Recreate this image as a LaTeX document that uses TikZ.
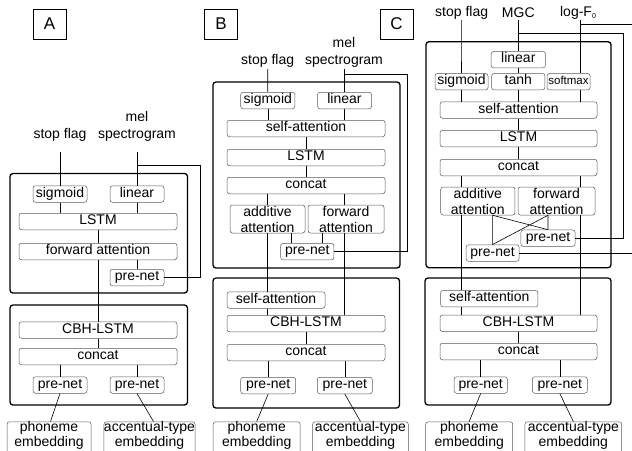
\documentclass[tikz,border=0pt]{standalone}
\usepackage{fontspec}
\setmainfont{Liberation Sans}
\usetikzlibrary{positioning}

\newcommand{\lowtail}{\rule[-8pt]{0pt}{8pt}}

\tikzset{
  blk/.style={draw=black!65, line width=0.5pt, rounded corners=2.5pt, inner sep=0pt,
              minimum height=16.5pt, text height=9pt, text depth=3pt},
  blktwo/.style={draw=black!65, line width=0.5pt, rounded corners=2.5pt, inner sep=0pt,
              minimum height=28pt, align=center},
  embbox/.style={draw=black!65, line width=0.5pt, rounded corners=2.5pt, inner sep=0pt,
              align=center, anchor=north, font=\fontsize{14}{15}\selectfont},
  frame/.style={draw, line width=1.3pt, rounded corners=3pt},
  lbl/.style={inner sep=0pt, align=center},
  tag/.style={draw, line width=0.8pt, inner sep=0pt, minimum width=33pt, minimum height=30pt,
              font=\fontsize{17}{17}\selectfont},
  link/.style={line width=0.6pt}
}

\begin{document}
\begin{tikzpicture}[x=1pt, y=-1pt, font=\fontsize{14}{16}\selectfont]

  \clip (0,0) rectangle (632,450);

  % frames
  \draw[frame] (10,173.5) rectangle (187.5,293);
  \draw[frame] (10,305) rectangle (187.5,405);
  \draw[frame] (213,82) rectangle (400,268);
  \draw[frame] (213,278) rectangle (399.5,408);
  \draw[frame] (426,41.7) rectangle (611,267.7);
  \draw[frame] (425,278) rectangle (611,405);

  % panel tags
  \node[tag] (tagA) at (49.5,24) {A};
  \node[tag] (tagB) at (221,24) {B};
  \node[tag] (tagC) at (396.5,24) {C};

  % ---------------- A ----------------
  \node[lbl] (aStop) at (60,135) {stop flag};
  \node[lbl, font=\fontsize{14}{17}\selectfont] (aMel) at (137,126.5) {mel\\spectrogram};
  \coordinate (aStopEnd) at (60,152);
  \coordinate (aMelEnd) at (137,152);
  \coordinate (aMelFb) at (137,165);

  \node[blk, minimum width=54] (aSig) at (60,194) {sigmoid};
  \node[blk, minimum width=54] (aLin) at (137,194) {linear};
  \node[blk, minimum width=158] (aLSTM) at (98,221.5) {LSTM};
  \node[blk, minimum width=158] (aFwd) at (98,251.5) {forward attention};
  \node[blk, minimum width=54] (aPre) at (137,277.5) {pre-net};
  \node[blk, minimum width=158] (aCBH) at (98,330) {CBH-LSTM};
  \node[blk, minimum width=158] (aCat) at (98,356.5) {concat};
  \node[blk, minimum width=54] (aPreL) at (60,385) {pre-net};
  \node[blk, minimum width=54] (aPreR) at (137,385) {pre-net};
  \node[embbox, minimum width=84] (aPho) at (49,421.5) {phoneme\\embedding\lowtail};
  \node[embbox, minimum width=91] (aAcc) at (149.5,421.5) {accentual-type\\embedding\lowtail};

  \begin{scope}[link]
    \draw (aStopEnd) -- (aSig.north);
    \draw (aMelEnd) -- (aLin.north);
    \draw (aMelFb) -- ++(63,0) |- (aPre.east);
    \draw (aSig.south) -- (aSig.south |- aLSTM.north);
    \draw (aLin.south) -- (aLin.south |- aLSTM.north);
    \draw (aLSTM) -- (aFwd);
    \draw (aPre.north) -- (aPre.north |- aFwd.south);
    \draw (aFwd.south) -- (aCBH.north);
    \draw (aCBH) -- (aCat);
    \draw (aPreL.north |- aCat.south) -- (aPreL.north);
    \draw (aPreR.north |- aCat.south) -- (aPreR.north);
    \draw (aPreL.south) -- ([xshift=1.5pt]aPho.north);
    \draw (aPreR.south) -- ([xshift=4pt]aAcc.north);
  \end{scope}

  % ---------------- B ----------------
  \node[lbl] (bStop) at (267.7,61) {stop flag};
  \node[lbl, font=\fontsize{14}{17.5}\selectfont] (bMel) at (344,52.5) {mel\\spectrogram};
  \coordinate (bStopEnd) at (267.7,69);
  \coordinate (bMelEnd) at (344.5,69);
  \coordinate (bMelFb) at (344.5,74);

  \node[blk, minimum width=54.3] (bSig) at (267.8,100.5) {sigmoid};
  \node[blk, minimum width=54] (bLin) at (344.5,100.5) {linear};
  \node[blk, minimum width=158] (bSelf) at (306,128.5) {self-attention};
  \node[blk, minimum width=158] (bLSTM) at (306,157.5) {LSTM};
  \node[blk, minimum width=158] (bCat) at (306,185.5) {concat};
  \node[blktwo, minimum width=75] (bAdd) at (267.5,219) {additive\\attention};
  \node[blktwo, minimum width=76] (bFwd) at (346,219) {forward\\attention};
  \node[blk, minimum width=53.3] (bPre) at (307.3,251.7) {pre-net};
  \node[blk, minimum width=98] (bSelf2) at (276,300) {self-attention};
  \node[blk, minimum width=158] (bCBH) at (306,323.5) {CBH-LSTM};
  \node[blk, minimum width=158] (bCat2) at (306,352.5) {concat};
  \node[blk, minimum width=55] (bPreL) at (268.2,385.5) {pre-net};
  \node[blk, minimum width=55] (bPreR) at (344.8,385.5) {pre-net};
  \node[embbox, minimum width=87] (bPho) at (256.7,421.5) {phoneme\\embedding\lowtail};
  \node[embbox, minimum width=95.6] (bAcc) at (360.5,421.5) {accentual-type\\embedding\lowtail};

  \begin{scope}[link]
    \draw (bStopEnd) -- (bSig.north);
    \draw (bMelEnd) -- (bLin.north);
    \draw (bMelFb) -- ++(62.5,0) |- (bPre.east);
    \draw (bSig.south) -- (bSig.south |- bSelf.north);
    \draw (bLin.south) -- (bLin.south |- bSelf.north);
    \draw (bSelf) -- (bLSTM);
    \draw (bLSTM) -- (bCat);
    \draw (bAdd.north |- bCat.south) -- (bAdd.north);
    \draw (bLin.south |- bCat.south) -- (bLin.south |- bFwd.north);
    \draw ([xshift=-15.6pt]bPre.north) -- ([xshift=-15.6pt]bPre.north |- bAdd.south);
    \draw ([xshift=15.4pt]bPre.north) -- ([xshift=15.4pt]bPre.north |- bFwd.south);
    \draw (bAdd.south) -- (bAdd.south |- bSelf2.north);
    \draw (bLin.south |- bFwd.south) -- (bLin.south |- bCBH.north);
    \draw (bAdd.south |- bSelf2.south) -- (bAdd.south |- bCBH.north);
    \draw (bCBH) -- (bCat2);
    \draw (bPreL.north |- bCat2.south) -- (bPreL.north);
    \draw (bPreR.north |- bCat2.south) -- (bPreR.north);
    \draw (bPreL.south) -- (bPho.north);
    \draw (bPreR.south) -- (bAcc.north);
  \end{scope}

  % ---------------- C ----------------
  \node[lbl] (cStop) at (461.7,13) {stop flag};
  \node[lbl] (cMgc) at (518.3,13) {MGC};
  \node[lbl] (cF0) at (578,13) {log-F{\fontsize{7}{7}\selectfont\raisebox{-2pt}{0}}};
  \coordinate (cStopEnd) at (461.7,20);
  \coordinate (cMgcEnd) at (518.3,20);
  \coordinate (cF0End) at (580,20);
  \coordinate (cMgcFb) at (518.3,33);
  \coordinate (cF0Fb) at (580,24.5);

  \node[blk, minimum width=54.3] (cLin) at (518.3,59.7) {linear};
  \node[blk, minimum width=53] (cSig) at (461.5,81.7) {sigmoid};
  \node[blk, minimum width=53.3] (cTanh) at (518.3,81.7) {tanh};
  \node[blk, minimum width=43, font=\fontsize{11.5}{12}\selectfont] (cSoft) at (568.5,81.7) {softmax};
  \node[blk, minimum width=157] (cSelf) at (518.5,110) {self-attention};
  \node[blk, minimum width=157] (cLSTM) at (518.5,138.5) {LSTM};
  \node[blk, minimum width=157] (cCat) at (518.5,167.5) {concat};
  \node[blktwo, minimum width=74.3] (cAdd) at (477.8,201) {additive\\attention};
  \node[blktwo, minimum width=77] (cFwd) at (556.5,201) {forward\\attention};
  \node[blk, minimum width=54.3] (cUp) at (548,238.2) {pre-net};
  \node[blk, minimum width=53] (cLow) at (492.6,253) {pre-net};
  \node[blk, minimum width=97.3] (cSelf2) at (489.3,298.7) {self-attention};
  \node[blk, minimum width=157] (cCBH) at (518.5,323.3) {CBH-LSTM};
  \node[blk, minimum width=157] (cCat2) at (518.5,351.5) {concat};
  \node[blk, minimum width=53.3] (cPreL) at (480.7,385) {pre-net};
  \node[blk, minimum width=55] (cPreR) at (559.8,385) {pre-net};
  \node[embbox, minimum width=87] (cPho) at (469.2,421.5) {phoneme\\embedding\lowtail};
  \node[embbox, minimum width=96.7] (cAcc) at (573.3,421.5) {accentual-type\\embedding\lowtail};

  \begin{scope}[link]
    \draw (cStopEnd) -- (cSig.north);
    \draw (cMgcEnd) -- (cLin.north);
    \draw (cF0End) -- (cF0End |- cSoft.north);
    \draw (cMgcFb) -- ++(104.5,0) |- (cUp.east);
    \draw (cF0Fb) -- ++(80,0) |- (cLow.east);
    \draw (cLin) -- (cTanh);
    \draw (cSig.south) -- (cSig.south |- cSelf.north);
    \draw (cTanh.south) -- (cTanh.south |- cSelf.north);
    \draw (cF0End |- cSoft.south) -- (cF0End |- cSelf.north);
    \draw (cSelf) -- (cLSTM);
    \draw (cLSTM) -- (cCat);
    \draw (cSig.south |- cCat.south) -- (cSig.south |- cAdd.north);
    \draw (cF0End |- cCat.south) -- (cF0End |- cFwd.north);
    % crossing links to the two pre-nets
    \draw (cLow.north) -- (cLow.north |- cAdd.south) -- (cUp.north);
    \draw (cUp.north) -- (cUp.north |- cFwd.south) -- (cLow.north);
    \draw (cSig.south |- cAdd.south) -- (cSig.south |- cSelf2.north);
    \draw (cF0End |- cFwd.south) -- (cF0End |- cCBH.north);
    \draw (cSig.south |- cSelf2.south) -- (cSig.south |- cCBH.north);
    \draw (cCBH) -- (cCat2);
    \draw (cPreL.north |- cCat2.south) -- (cPreL.north);
    \draw (cPreR.north |- cCat2.south) -- (cPreR.north);
    \draw (cPreL.south) -- (cPho.north);
    \draw (cPreR.south) -- (cAcc.north);
  \end{scope}

\end{tikzpicture}
\end{document}
